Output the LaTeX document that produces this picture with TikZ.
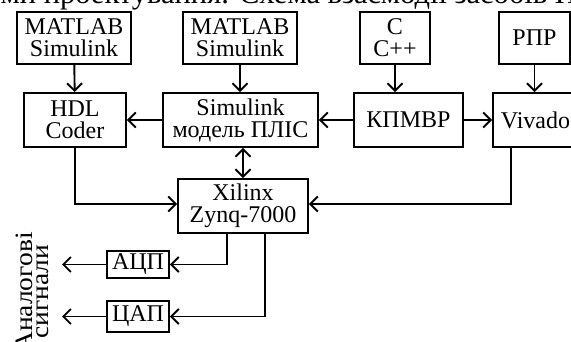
\documentclass[tikz,border=0pt]{standalone}
\usepackage{fontspec}
\setmainfont{Liberation Serif}
\newfontfamily\lblfont{Liberation Serif}[FakeStretch=1.1]
\usetikzlibrary{arrows.meta}
\begin{document}
\begin{tikzpicture}[x=1pt,y=-1pt,
  every node/.style={font=\fontsize{24}{22}\selectfont},
  blk/.style={draw, line width=1.9pt, rectangle, inner sep=0pt, align=center},
  conn/.style={line width=1.9pt, -{Straight Barb[length=7.5pt,width=15pt,line width=1.9pt]}},
  bconn/.style={line width=1.9pt, {Straight Barb[length=7.5pt,width=15pt,line width=1.9pt]}-{Straight Barb[length=7.5pt,width=15pt,line width=1.9pt]}}]
\useasboundingbox (0,0) rectangle (571,342);
\clip (0,0) rectangle (571,342);
\node[anchor=base west, font=\fontsize{30.5}{30}\selectfont] (cap) at (-3,4) {ми проектування. Схема взаємодії засобів ПЛІС};
% top row
\node[blk, minimum width=114pt, minimum height=52pt] (m1) at (74,38) {MATLAB\\Simulink};
\node[blk, minimum width=114pt, minimum height=52pt] (m2) at (240,38) {MATLAB\\Simulink};
\node[blk, minimum width=70pt, minimum height=52pt] (c) at (395,38) {C\\C++};
\node[blk, minimum width=71pt, minimum height=52pt] (rpr) at (534.5,38) {РПР};
% middle row
\node[blk, minimum width=102pt, minimum height=54pt] (hdl) at (75,120) {HDL\\Coder};
\node[blk, minimum width=155pt, minimum height=54pt] (sim) at (240.5,120) {Simulink\\модель ПЛІС};
\node[blk, minimum width=109pt, minimum height=54pt] (kp) at (408.5,120) {КПМВР};
\node[blk, minimum width=85pt, minimum height=54pt] (viv) at (535.5,120) {Vivado};
% Xilinx
\node[blk, minimum width=130pt, minimum height=54pt] (xil) at (243,206) {Xilinx\\Zynq-7000};
% ADC / DAC
\node[blk, minimum width=62pt, minimum height=27pt] (adc) at (138,264.5) {АЦП};
\node[blk, minimum width=62pt, minimum height=31pt] (dac) at (138,316.5) {ЦАП};
\coordinate (ao1) at (62,264.5);
\coordinate (ao2) at (62,316.5);
\node[rotate=90, align=center, font=\lblfont\fontsize{25}{16.5}\selectfont] (lbl) at (32.5,292) {Аналогові\\сигнали};
% connectors
\draw[conn] (m1) -- (hdl);
\draw[conn] (m2) -- (m2 |- sim.north);
\draw[conn] (c) -- (c |- kp.north);
\draw[conn] (rpr) -- (rpr |- viv.north);
\draw[conn] (sim) -- (hdl);
\draw[conn] (kp) -- (sim);
\draw[conn] (kp) -- (viv);
\draw[bconn] (xil.north |- sim.south) -- (xil.north);
\draw[conn] (hdl.south) |- ([yshift=2pt]xil.west);
\draw[conn] ([xshift=19pt]viv.south west) |- ([yshift=2pt]xil.east);
\draw[conn] ([xshift=50pt]xil.south west) |- (adc.east);
\draw[conn] ([xshift=88pt]xil.south west) |- (dac.east);
\draw[conn] (adc) -- (ao1);
\draw[conn] (dac) -- (ao2);
\end{tikzpicture}
\end{document}
